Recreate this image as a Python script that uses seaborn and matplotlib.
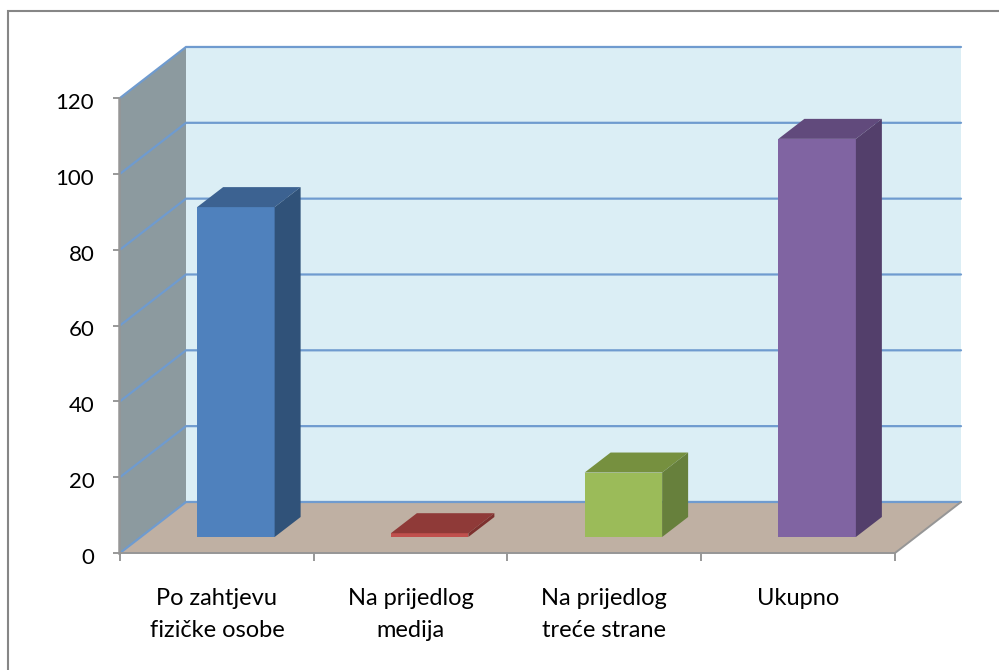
import matplotlib
matplotlib.use("Agg")
import matplotlib.pyplot as plt
from matplotlib.lines import Line2D
from matplotlib.patches import Polygon
from matplotlib.transforms import ScaledTranslation
import seaborn as sns

#Chart values
categories = ["Po zahtjevu\nfizičke osobe", "Na prijedlog\nmedija", "Na prijedlog\ntreće strane", "Ukupno"]
values = [87, 1, 17, 105]
y_ticks = [0, 20, 40, 60, 80, 100, 120]

#Bar colours: front, top and side faces
front_colors = ["#4f81bd", "#c0504d", "#9bbb59", "#8064a2"]
top_colors = ["#3c6291", "#8f3a38", "#76903f", "#614a7c"]
side_colors = ["#305279", "#7d312f", "#67803c", "#533f6b"]

WIDTH, HEIGHT = 999, 670

#Turn a pixel box into a figure rect
def px_rect(left, right, top, bottom):
    return [left / WIDTH, 1 - bottom / HEIGHT, (right - left) / WIDTH, (bottom - top) / HEIGHT]

sns.set_style("white")
plt.rcParams["font.family"] = ["Lato", "DejaVu Sans"]

fig = plt.figure(figsize=(WIDTH / 100, HEIGHT / 100), dpi=100)
fig.patch.set_facecolor("white")

#Chart border, only its top and left side fall inside the picture
fig.add_artist(Line2D([8 / WIDTH, 8 / WIDTH, 1], [0, 1 - 11 / HEIGHT, 1 - 11 / HEIGHT],
                      transform=fig.transFigure, color="#868686", linewidth=1.5,
                      solid_joinstyle="miter"))

#Front plane axes holds the scales, the walls and the tick labels
ax = fig.add_axes(px_rect(120, 895, 98, 553))
ax.set_xlim(-0.5, 3.5)
ax.set_ylim(0, 120)
ax.patch.set_alpha(0)

#Depth of the chart box and of the bars in data units
wall_dx = 66 / 193.75
wall_dy = 51 / 3.79
bar_dx = 26 / 193.75
bar_dy = 20 / 3.79

x0, x1 = -0.5, 3.5
y0, y1 = y_ticks[0], y_ticks[-1]

#Back wall, side wall and floor
ax.add_patch(Polygon([(x0 + wall_dx, y0 + wall_dy), (x1 + wall_dx, y0 + wall_dy),
                      (x1 + wall_dx, y1 + wall_dy), (x0 + wall_dx, y1 + wall_dy)],
                     facecolor="#dbeef5", edgecolor="none", clip_on=False, zorder=1))
ax.add_patch(Polygon([(x0, y0), (x0 + wall_dx, y0 + wall_dy),
                      (x0 + wall_dx, y1 + wall_dy), (x0, y1)],
                     facecolor="#8c9a9f", edgecolor="none", clip_on=False, zorder=1))
ax.add_patch(Polygon([(x0, y0), (x1, y0), (x1 + wall_dx, y0 + wall_dy), (x0 + wall_dx, y0 + wall_dy)],
                     facecolor="#bfb0a3", edgecolor="none", clip_on=False, zorder=1))

#Gridlines run along the side wall and then across the back wall
for tick in y_ticks:
    ax.plot([x0, x0 + wall_dx, x1 + wall_dx], [tick, tick + wall_dy, tick + wall_dy],
            color="#6f9bcf", linewidth=1.6, clip_on=False, zorder=2, solid_joinstyle="miter")

#Front and right edge of the floor
ax.plot([x0, x1, x1 + wall_dx], [y0, y0, y0 + wall_dy], color="#969696",
        linewidth=1.4, clip_on=False, zorder=2)

sns.despine(ax=ax, top=True, right=True)
ax.spines["left"].set_color("#969696")
ax.spines["left"].set_linewidth(1.8)
ax.spines["left"].set_position(("outward", 1))
ax.spines["bottom"].set_visible(False)

#Value ticks, category boundary ticks and centred category labels
ax.set_yticks(y_ticks)
ax.set_xticks([-0.5, 0.5, 1.5, 2.5, 3.5], labels=[])
ax.set_xticks([0, 1, 2, 3], labels=categories, minor=True)
ax.tick_params(axis="y", length=4.5, width=1.2, color="#868686", labelsize=16, labelcolor="black",
               pad=13, left=True)
ax.tick_params(axis="x", which="major", length=5.5, width=1.2, color="#868686", bottom=True)
ax.tick_params(axis="x", which="minor", length=0, labelsize=17, labelcolor="black", pad=25)
for label in ax.get_xticklabels(minor=True):
    label.set_linespacing(1.65)

#Value labels sit a little under their ticks
nudge = ScaledTranslation(0, -3 / 100, fig.dpi_scale_trans)
for label in ax.get_yticklabels():
    label.set_transform(label.get_transform() + nudge)

#Bars sit in from the front plane, so they get their own shifted axes
ax_bar = fig.add_axes(px_rect(139, 914, 82, 537))
sns.barplot(x=categories, y=values, hue=categories, palette=front_colors, width=0.4,
            saturation=1, legend=False, linewidth=0, edgecolor="none", ax=ax_bar)
ax_bar.set_xlim(-0.5, 3.5)
ax_bar.set_ylim(0, 120)
ax_bar.axis("off")

#Top and side faces built from each drawn bar
for bar, top_color, side_color in zip(ax_bar.patches, top_colors, side_colors):
    left, right = bar.get_x(), bar.get_x() + bar.get_width()
    height = bar.get_height()
    ax_bar.add_patch(Polygon([(left, height), (right, height),
                              (right + bar_dx, height + bar_dy), (left + bar_dx, height + bar_dy)],
                             facecolor=top_color, edgecolor="none", clip_on=False))
    ax_bar.add_patch(Polygon([(right, 0), (right + bar_dx, bar_dy),
                              (right + bar_dx, height + bar_dy), (right, height)],
                             facecolor=side_color, edgecolor="none", clip_on=False))

plt.savefig("out.png", dpi=100)
